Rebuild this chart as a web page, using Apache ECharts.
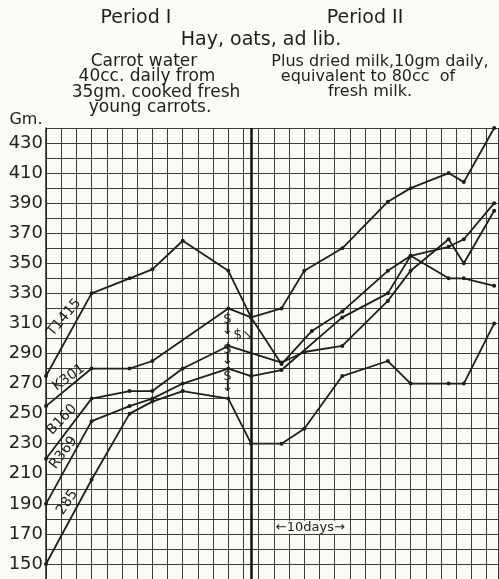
<!DOCTYPE html>
<html>
<head>
<meta charset="utf-8">
<script src="https://cdn.jsdelivr.net/npm/echarts@6/dist/echarts.min.js"></script>
<style>
html,body{margin:0;padding:0;background:#fafaf8;}
#chart{width:499px;height:579px;}
</style>
</head>
<body>
<div id="chart"></div>
<script>
// ---- data (days of weighing, body weight in Gm.) ----
const seriesNames = ['T1415', 'K301', 'B160', 'R369', '285'];

const t1415Days    = [0, 6, 11, 14, 18, 24, 27, 31, 34, 39, 45, 48, 53, 55, 59];
const t1415Weights = [275, 330, 340, 346, 365, 345, 314, 320, 345, 360, 391, 400, 410, 404, 440];

const k301Days     = [0, 6, 11, 14, 24, 27, 31, 35, 39, 45, 48, 53, 55, 59];
const k301Weights  = [255, 280, 280, 285, 320, 314, 283, 305, 318, 345, 355, 340, 340, 335];

const b160Days     = [0, 6, 11, 14, 18, 24, 31, 34, 39, 45, 48, 53, 55, 59];
const b160Weights  = [220, 260, 265, 265, 280, 295, 284, 291, 295, 325, 345, 366, 350, 385];

const r369Days     = [0, 6, 11, 14, 18, 24, 27, 31, 39, 45, 48, 53, 55, 59];
const r369Weights  = [190, 245, 255, 260, 270, 280, 275, 279, 314, 330, 355, 361, 366, 390];

const s285Days     = [0, 6, 11, 14, 18, 24, 27, 31, 34, 39, 45, 48, 53, 55, 59];
const s285Weights  = [150, 206, 250, 258, 265, 260, 230, 230, 240, 275, 285, 270, 270, 270, 310];

const periodDivideDay = 27;
const yTickLabels = [150, 170, 190, 210, 230, 250, 270, 290, 310, 330, 350, 370, 390, 410, 430];

// ---- annotation anchors (data coordinates) ----
const nameLabelAnchors = [[2.4, 314, 50], [3.0, 274, 36], [2.1, 246, 46], [2.3, 224, 53], [2.8, 191, 56]];
const signAnchors = [[23.9, 309], [23.9, 289], [23.9, 271]];
const signSideAnchor = [26.0, 302];
const tenDaysAnchor = [34.8, 174.5];

const FONT = 'DejaVu Sans';
const ink = '#1e1e1e';

function pairs(days, vals) { return days.map((d, i) => [d, vals[i]]); }
const allData = [
  pairs(t1415Days, t1415Weights),
  pairs(k301Days, k301Weights),
  pairs(b160Days, b160Weights),
  pairs(r369Days, r369Weights),
  pairs(s285Days, s285Weights)
];

const series = allData.map((d, i) => {
  const a = nameLabelAnchors[i];
  const s = {
    name: seriesNames[i],
    type: 'line',
    data: d,
    symbol: 'circle',
    symbolSize: 4,
    lineStyle: { color: ink, width: 1.8 },
    itemStyle: { color: ink },
    z: 5,
    markPoint: {
      silent: true,
      symbol: 'rect',
      symbolSize: 1,
      itemStyle: { color: 'rgba(0,0,0,0)' },
      data: [{
        coord: [a[0], a[1]],
        label: {
          show: true, position: 'inside', formatter: seriesNames[i],
          rotate: a[2], fontFamily: FONT, fontSize: 14, color: ink
        }
      }]
    }
  };
  if (i === 0) {
    s.markLine = {
      silent: true, symbol: 'none', label: { show: false },
      lineStyle: { color: '#111', width: 2.5, type: 'solid' },
      data: [{ xAxis: periodDivideDay }]
    };
    const extra = signAnchors.map(p => ({
      coord: p,
      label: { show: true, position: 'inside', formatter: '$\n↓', fontFamily: FONT, fontSize: 14, lineHeight: 11, color: ink }
    }));
    extra.push({
      coord: signSideAnchor,
      label: { show: true, position: 'inside', formatter: '$↘', fontFamily: FONT, fontSize: 14, color: ink }
    });
    extra.push({
      coord: tenDaysAnchor,
      label: { show: true, position: 'inside', formatter: '←10days→', fontFamily: FONT, fontSize: 13, color: ink, backgroundColor: '#fafaf8', padding: [0, 1] }
    });
    s.markPoint.data = s.markPoint.data.concat(extra);
  }
  return s;
});

const textItems = [
  ['Period I', 136, 18, 19],
  ['Period II', 365, 18, 19],
  ['Hay, oats, ad lib.', 261, 40, 19],
  ['Carrot water', 144, 62, 17],
  ['40cc. daily from', 147, 77, 17],
  ['35gm. cooked fresh', 156, 93, 17],
  ['young carrots.', 150, 108, 17],
  ['Plus dried milk,10gm daily,', 380, 62, 16],
  ['equivalent to 80cc  of', 368, 77, 16],
  ['fresh milk.', 370, 92, 16],
  ['Gm.', 26, 120, 16]
];

const chart = echarts.init(document.getElementById('chart'), null, { renderer: 'canvas' });
chart.setOption({
  backgroundColor: '#fafaf8',
  animation: false,
  grid: { left: 46, top: 128, width: 452, height: 453.3 },
  xAxis: {
    type: 'value', min: 0, max: 59.5, interval: 2,
    axisLine: { show: false }, axisTick: { show: false }, axisLabel: { show: false },
    splitLine: { show: true, lineStyle: { color: '#3c3c3c', width: 1 } }
  },
  yAxis: {
    type: 'value', min: 140, max: 440, interval: 10,
    axisLine: { show: true, lineStyle: { color: '#222', width: 1.5 } },
    axisTick: { show: false },
    axisLabel: {
      formatter: v => (yTickLabels.indexOf(v) >= 0 ? String(v) : ''),
      fontSize: 18, color: '#222', fontFamily: FONT, margin: 3
    },
    splitLine: { show: true, lineStyle: { color: '#3c3c3c', width: 1 } }
  },
  graphic: textItems.map(t => ({
    type: 'text', x: t[1], y: t[2], silent: true,
    style: { text: t[0], fill: ink, font: t[3] + 'px "' + FONT + '"', align: 'center', verticalAlign: 'middle' }
  })),
  series: series
});
</script>
</body>
</html>
